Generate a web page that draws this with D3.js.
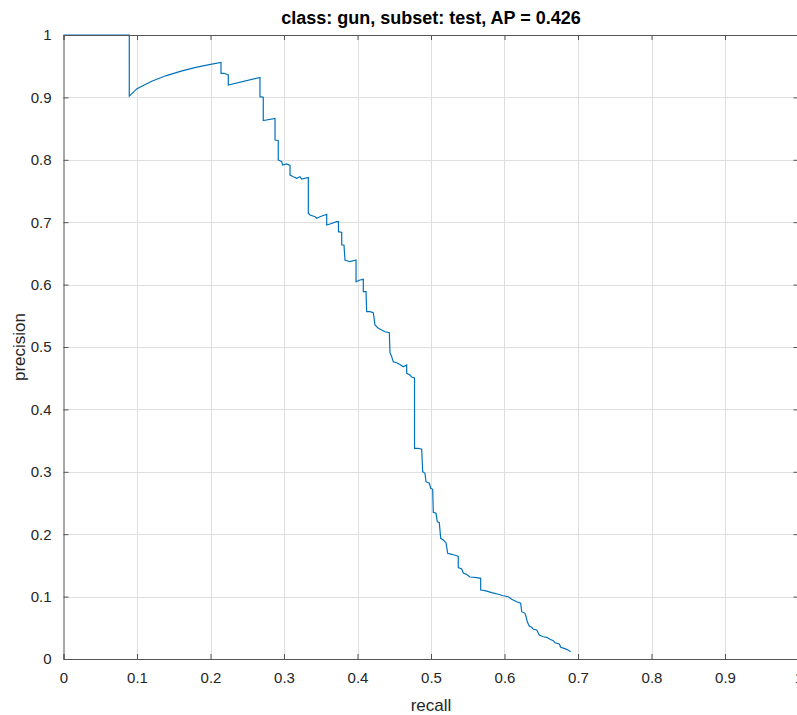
<!DOCTYPE html>
<html>
<head>
<script src="https://cdn.jsdelivr.net/npm/d3@7"></script>
  <meta charset="utf-8">
  <title>class: gun, subset: test, AP = 0.426</title>
    <style>
        body { margin: 0; background: #FFF; }
        text { font-family: 'Liberation Sans', Arial, sans-serif; fill: #262626; }
    </style>
</head>
<body>

    <script>
        var w = 797;
        var h = 715;

        var titleText = 'class: gun, subset: test, AP = 0.426';
        var xLabel = 'recall';
        var yLabel = 'precision';
        var xTicks = [0, 0.1, 0.2, 0.3, 0.4, 0.5, 0.6, 0.7, 0.8, 0.9, 1];
        var yTicks = [0, 0.1, 0.2, 0.3, 0.4, 0.5, 0.6, 0.7, 0.8, 0.9, 1];

        // vertex by vertex (steps included)
        var recall = [
            0, 0.0895, 0.0895, 0.100, 0.120, 0.140, 0.160, 0.180, 0.200, 0.2143,
            0.2143, 0.2184, 0.2242, 0.2242, 0.2673, 0.2673, 0.2718, 0.2718, 0.2878, 0.2878,
            0.2922, 0.2922, 0.2969, 0.2980, 0.3037, 0.3082, 0.3082, 0.3127, 0.3173, 0.3218,
            0.3241, 0.3331, 0.3331, 0.3354, 0.3422, 0.3445, 0.3490, 0.3581, 0.3581, 0.3626,
            0.3717, 0.3741, 0.3741, 0.3785, 0.3785, 0.3816, 0.3830, 0.3898, 0.3980, 0.3980,
            0.4034, 0.4079, 0.4079, 0.4116, 0.4125, 0.4170, 0.4215, 0.4238, 0.4283, 0.4329,
            0.4374, 0.4433, 0.4442, 0.4465, 0.4487, 0.4533, 0.4578, 0.4623, 0.4669, 0.4669,
            0.4714, 0.4737, 0.4776, 0.4776, 0.4827, 0.4873, 0.4887, 0.4918, 0.4932, 0.4977,
            0.4996, 0.5023, 0.5031, 0.5068, 0.5086, 0.5113, 0.5132, 0.5167, 0.5204, 0.5227,
            0.5282, 0.5350, 0.5371, 0.5371, 0.5418, 0.5439, 0.5486, 0.5531, 0.5622, 0.5676,
            0.5676, 0.5735, 0.5826, 0.5916, 0.5984, 0.6052, 0.6098, 0.6166, 0.6220, 0.6234,
            0.6279, 0.6293, 0.6310, 0.6337, 0.6370, 0.6392, 0.6438, 0.6473, 0.6528, 0.6574,
            0.6619, 0.6664, 0.6687, 0.6746, 0.6765, 0.6810, 0.6846, 0.6901
        ];
        var precision = [
            1, 1, 0.902, 0.914, 0.926, 0.935, 0.942, 0.948, 0.953, 0.956,
            0.9386, 0.9386, 0.9359, 0.9199, 0.9319, 0.9011, 0.9002, 0.8630, 0.8662, 0.8317,
            0.8309, 0.7997, 0.7970, 0.7917, 0.7933, 0.7909, 0.7756, 0.7729, 0.7704, 0.7729,
            0.7692, 0.7716, 0.7143, 0.7115, 0.7088, 0.7063, 0.7088, 0.7127, 0.6955, 0.6971,
            0.7008, 0.7008, 0.6848, 0.6835, 0.6635, 0.6635, 0.6394, 0.6367, 0.6394, 0.6046,
            0.6074, 0.6085, 0.5886, 0.5886, 0.5566, 0.5566, 0.5550, 0.5353, 0.5300, 0.5272,
            0.5245, 0.5229, 0.4909, 0.4845, 0.4764, 0.4748, 0.4720, 0.4684, 0.4712, 0.4579,
            0.4551, 0.4519, 0.4503, 0.3377, 0.3377, 0.3361, 0.3002, 0.2976, 0.2841, 0.2816,
            0.2736, 0.2720, 0.2351, 0.2335, 0.2200, 0.2184, 0.1934, 0.1907, 0.1864, 0.1694,
            0.1678, 0.1655, 0.1643, 0.1466, 0.1442, 0.1378, 0.1354, 0.1314, 0.1303, 0.1293,
            0.1106, 0.1095, 0.1063, 0.1037, 0.1014, 0.0998, 0.0957, 0.0918, 0.0893, 0.0758,
            0.0732, 0.0678, 0.0598, 0.0529, 0.0508, 0.0476, 0.0465, 0.0385, 0.0357, 0.0348,
            0.0316, 0.0293, 0.0261, 0.0240, 0.0188, 0.0171, 0.0155, 0.0117
        ];

        // plot box (right edge sits just past the window, like the screenshot)
        var boxL = 63.5, boxR = 798.5, boxT = 35, boxB = 659;

        var x = d3.scaleLinear().domain([0, 1]).range([boxL, boxR]);
        var y = d3.scaleLinear().domain([0, 1]).range([boxB, boxT]);

        var svg = d3.select('body')
        .append('svg')
        .attr('width', w)
        .attr('height', h);

        /* GRID */

        svg.append('g')
        .selectAll('line')
        .data(xTicks.slice(1, -1))
        .enter()
        .append('line')
        .attr('x1', function(d){ return Math.round(x(d)) + 0.5; })
        .attr('x2', function(d){ return Math.round(x(d)) + 0.5; })
        .attr('y1', boxT)
        .attr('y2', boxB)
        .attr('stroke', '#dfdfdf');

        svg.append('g')
        .selectAll('line')
        .data(yTicks.slice(1, -1))
        .enter()
        .append('line')
        .attr('x1', boxL)
        .attr('x2', boxR)
        .attr('y1', function(d){ return Math.round(y(d)) + 0.5; })
        .attr('y2', function(d){ return Math.round(y(d)) + 0.5; })
        .attr('stroke', '#dfdfdf');

        /* CURVE */

        var pts = recall.map(function(r, i){ return [r, precision[i]]; });

        svg.append('path')
        .datum(pts)
        .attr('fill', 'none')
        .attr('stroke', '#0072BD')
        .attr('stroke-width', 1.2)
        .attr('d', d3.line()
            .x(function(d){ return x(d[0]); })
            .y(function(d){ return y(d[1]); }));

        /* AXES (matlab style box, ticks inside) */

        var axisColor = '#555';
        var fmt = function(d){ return d3.format('')(d); };

        function styleAxis(g) {
            g.select('.domain').attr('stroke', axisColor);
            g.selectAll('.tick line').attr('stroke', axisColor);
            g.selectAll('.tick text').attr('font-size', 15).attr('fill', '#262626')
                .style('font-family', "'Liberation Sans', Arial, sans-serif");
        }

        svg.append('g')
        .attr('transform', 'translate(0,' + boxB + ')')
        .call(d3.axisBottom(x).tickValues(xTicks).tickSize(-5).tickPadding(13).tickFormat(fmt))
        .call(styleAxis);

        svg.append('g')
        .attr('transform', 'translate(0,' + boxT + ')')
        .call(d3.axisTop(x).tickValues(xTicks).tickSize(-5).tickFormat(''))
        .call(styleAxis);

        svg.append('g')
        .attr('transform', 'translate(' + boxL + ',0)')
        .call(d3.axisLeft(y).tickValues(yTicks).tickSize(-5).tickPadding(12).tickFormat(fmt))
        .call(styleAxis);

        svg.append('g')
        .attr('transform', 'translate(' + boxR + ',0)')
        .call(d3.axisRight(y).tickValues(yTicks).tickSize(-5).tickFormat(''))
        .call(styleAxis);

        /* LABELS */

        svg.append('text')
        .attr('x', (boxL + boxR) / 2)
        .attr('y', 24)
        .attr('text-anchor', 'middle')
        .attr('font-size', 18)
        .attr('font-weight', 'bold')
        .style('fill', '#000')
        .text(titleText);

        svg.append('text')
        .attr('x', (boxL + boxR) / 2)
        .attr('y', 711)
        .attr('text-anchor', 'middle')
        .attr('font-size', 17)
        .text(xLabel);

        svg.append('text')
        .attr('transform', 'translate(25,' + (boxT + boxB) / 2 + ') rotate(-90)')
        .attr('text-anchor', 'middle')
        .attr('font-size', 17)
        .text(yLabel);

    </script>
</body>
</html>
